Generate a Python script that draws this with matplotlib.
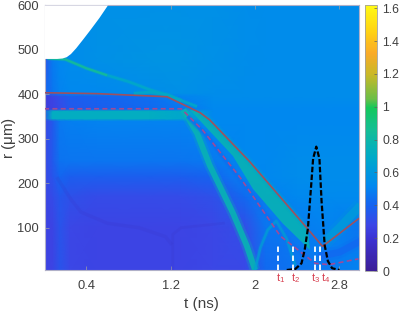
import matplotlib
matplotlib.use("Agg")
import matplotlib.pyplot as plt
from matplotlib.colors import LinearSegmentedColormap, Normalize

plt.rcParams["font.family"] = ["Liberation Sans", "DejaVu Sans"]
plt.rcParams["mathtext.fontset"] = "custom"
plt.rcParams["mathtext.rm"] = "Liberation Sans"
plt.rcParams["mathtext.it"] = "Liberation Sans"

# background field, rows follow r_knots and columns follow t_knots
t_knots = [0, 0.08, 0.15, 0.25, 0.5, 1.0, 1.3, 1.6, 1.9, 2.1, 2.4, 2.7, 3.0]
r_knots = [5, 100, 170, 215, 250, 340, 345, 362, 367, 395, 402, 480, 600]
field = [
    [.26, .27, .34, .28, .27, .27, .27, .28, .29, .42, .46, .47, .50],
    [.26, .27, .34, .28, .27, .27, .27, .28, .31, .46, .48, .50, .46],
    [.27, .30, .35, .32, .30, .30, .30, .32, .42, .49, .52, .53, .53],
    [.28, .34, .41, .38, .38, .38, .38, .40, .50, .52, .54, .54, .54],
    [.28, .36, .45, .46, .46, .46, .46, .47, .52, .52, .54, .54, .54],
    [.28, .36, .47, .49, .50, .50, .50, .52, .52, .52, .52, .52, .52],
    [.36, .72, .72, .72, .72, .72, .68, .52, .52, .52, .52, .52, .52],
    [.36, .72, .72, .72, .72, .72, .68, .52, .52, .52, .52, .52, .52],
    [.24, .26, .30, .36, .38, .42, .46, .52, .52, .52, .52, .52, .52],
    [.24, .27, .32, .38, .40, .44, .50, .54, .54, .54, .54, .54, .54],
    [.40, .46, .50, .52, .52, .55, .56, .55, .54, .54, .54, .54, .54],
    [.32, .48, .52, .54, .56, .58, .58, .56, .55, .54, .54, .54, .54],
    [.52, .53, .54, .55, .56, .56, .56, .56, .55, .54, .54, .54, .54],
]

# vacuum edge at early times
edge_t = [0, 0.12, 0.17, 0.21, 0.25, 0.3, 0.37, 0.435, 0.52, 0.6]
edge_r = [480, 480, 481, 484, 491, 504, 525, 545, 572, 600]

# bands in the field
upper1_t = [0.03, 0.2, 0.4, 0.6]
upper1_r = [480, 478, 458, 442]
upper2_t = [0.6, 0.8, 1.0, 1.2, 1.45]
upper2_r = [442, 428, 410, 395, 372]
lens_t = [0.85, 1.0, 1.17, 1.3]
lens_r = [401, 404, 398, 385]
wave1_t = [1.32, 1.45, 1.57, 1.79, 1.92, 2.0]
wave1_r = [365, 312, 240, 133, 60, 5]
wave2_t = [1.36, 1.55, 1.8, 2.05, 2.3, 2.5]
wave2_r = [350, 305, 225, 145, 75, 30]
wedge_t = [1.38, 1.48, 1.57, 1.95, 2.5, 2.52, 2.26, 1.98, 1.79]
wedge_r = [365, 358, 342, 248, 97, 50, 110, 187, 261]
arch_t = [2.0, 2.05, 2.12, 2.2, 2.3, 2.38]
arch_r = [5, 55, 95, 115, 75, 15]
right_t = [2.66, 2.8, 3.0]
right_r = [68, 100, 150]
right2_t = [2.6, 2.8, 3.0]
right2_r = [35, 45, 70]

# dark ridge in the lower left
ridge_t = [0.13, 0.25, 0.35, 0.6, 0.9, 1.15, 1.2]
ridge_r = [210, 165, 135, 110, 100, 80, 65]
ridge2_t = [1.22, 1.22, 1.3, 1.5, 1.7]
ridge2_r = [5, 85, 100, 105, 110]

# diagnostics over the field
solid_t = [0, 0.5, 1.165, 1.48, 1.57, 1.95, 2.5, 2.64, 2.98]
solid_r = [403, 401, 394, 358, 342, 248, 97, 58, 120]
dashed_t = [0, 0.6, 1.3, 1.5, 1.7, 1.86, 2.24, 2.57, 2.7, 2.98]
dashed_r = [367, 367, 367, 320, 260, 212, 81, 20, 17, 30]
pulse_t = [2.3, 2.38, 2.44, 2.47, 2.5, 2.53, 2.55, 2.58, 2.61, 2.63, 2.66, 2.69, 2.73, 2.8]
pulse_r = [5, 7, 20, 50, 97, 190, 255, 282, 255, 160, 60, 25, 9, 5]
probe_t = [2.215, 2.355, 2.57, 2.62]
probe_top = [63, 63, 63, 63]
probe_names = ["$t_1$", "$t_2$", "$t_3$", "$t_4$"]
probe_label_t = [2.245, 2.38, 2.57, 2.665]

x_ticks = [0.4, 1.2, 2, 2.8]
y_ticks = [100, 200, 300, 400, 500, 600]
cbar_ticks = [0, 0.2, 0.4, 0.6, 0.8, 1, 1.2, 1.4, 1.6]
cbar_labels = ["0", "0.2", "0.4", "0.6", "0.8", "1", "1.2", "1.4", "1.6"]

cmap = LinearSegmentedColormap.from_list("map", [
    (0.0, "#3c1e96"),
    (0.12, "#3c32d2"),
    (0.17, "#3c46e6"),
    (0.25, "#1464f0"),
    (0.32, "#0088f0"),
    (0.43, "#00aac8"),
    (0.53, "#14be96"),
    (0.615, "#14c85a"),
    (0.65, "#6ebe46"),
    (0.74, "#c8b928"),
    (0.82, "#faaa28"),
    (0.90, "#ffd214"),
    (1.0, "#fffa14"),
])
norm = Normalize(0, 1.62)
grey = "#404040"

fig = plt.figure(figsize=(4.0, 3.12), dpi=100)
ax = fig.add_axes([44.5 / 400, 1 - 270 / 312, 314.5 / 400, 265 / 312])
cax = fig.add_axes([365 / 400, 1 - 271 / 312, 12 / 400, 266 / 312])

mesh = ax.pcolormesh(t_knots, r_knots, field, cmap=cmap, norm=norm, shading="gouraud")


def band(t, r, value, width, alpha=0.9):
    # soft edge first, core on top
    ax.plot(t, r, color=cmap(norm(value)), lw=width * 1.8, alpha=alpha * 0.3, zorder=3,
            solid_capstyle="butt")
    ax.plot(t, r, color=cmap(norm(value)), lw=width, alpha=alpha, zorder=3,
            solid_capstyle="butt")


ax.fill(wedge_t, wedge_r, color=cmap(norm(0.76)), alpha=0.9, lw=0, zorder=3)
band(solid_t[3:7], solid_r[3:7], 0.66, 3, 0.5)
band(wave1_t, wave1_r, 0.76, 4.2)
band(wave2_t, wave2_r, 0.44, 2.5, 0.8)
band(upper1_t, upper1_r, 0.85, 1.6)
band(upper2_t, upper2_r, 0.70, 1.8, 0.85)
band(lens_t, lens_r, 0.70, 2.2, 0.8)
band(arch_t, arch_r, 0.64, 1.8, 0.7)
band(right_t, right_r, 0.62, 6, 0.8)
band(right2_t, right2_r, 0.40, 5, 0.6)
ax.plot(ridge_t, ridge_r, color="#3a30c0", lw=2.5, alpha=0.15, zorder=3)
ax.plot(ridge2_t, ridge2_r, color="#3a30c0", lw=2, alpha=0.15, zorder=3)
# white goes over the bands so the green ridge stops at the edge
ax.fill_between(edge_t, edge_r, 600, color="white", lw=0, zorder=3.5)

ax.plot(solid_t, solid_r, color="#a0505f", lw=1.2, zorder=4)
ax.plot(dashed_t, dashed_r, color="#a04a98", lw=1.2, ls=(0, (3, 2)), zorder=4)
ax.plot(pulse_t, pulse_r, color="black", lw=1.6, ls=(0, (2.5, 1.0)), zorder=5)
ax.vlines(probe_t, 5, probe_top, color="white", lw=1.3, ls=(0, (3, 2)), zorder=5)
for t, name in zip(probe_label_t, probe_names):
    ax.annotate(name, (t, 5), xytext=(0, -5.5), textcoords="offset points", ha="center",
                va="center", color="#d84050", fontsize=8, annotation_clip=False)

ax.set_xlim(0.004, 2.985)
ax.set_ylim(5, 600)
ax.set_xticks(x_ticks, ["0.4", "1.2", "2", "2.8"])
ax.set_yticks(y_ticks)
ax.tick_params(direction="in", length=3, width=0.5, color="#a0a0a0", labelcolor=grey,
               labelsize=9.3, pad=4, top=True)
ax.tick_params(axis="x", pad=7)
for spine in ax.spines.values():
    spine.set_color("#b0b0c8")
    spine.set_linewidth(0.8)
ax.set_xlabel("t (ns)", color=grey, fontsize=11, labelpad=4)
ax.set_ylabel("r ($\\mu$m)", color=grey, fontsize=11)
ax.yaxis.set_label_coords((18 - 44.5) / 314.5, 0.5)

cbar = fig.colorbar(mesh, cax=cax)
cbar.set_ticks(cbar_ticks, labels=cbar_labels)
cbar.ax.tick_params(direction="in", length=2, width=0.5, color="#606060", labelcolor=grey,
                    labelsize=8.8, pad=4)
cbar.outline.set_edgecolor("#a0a0a0")
cbar.outline.set_linewidth(0.6)

fig.savefig("out.png", dpi=100)
